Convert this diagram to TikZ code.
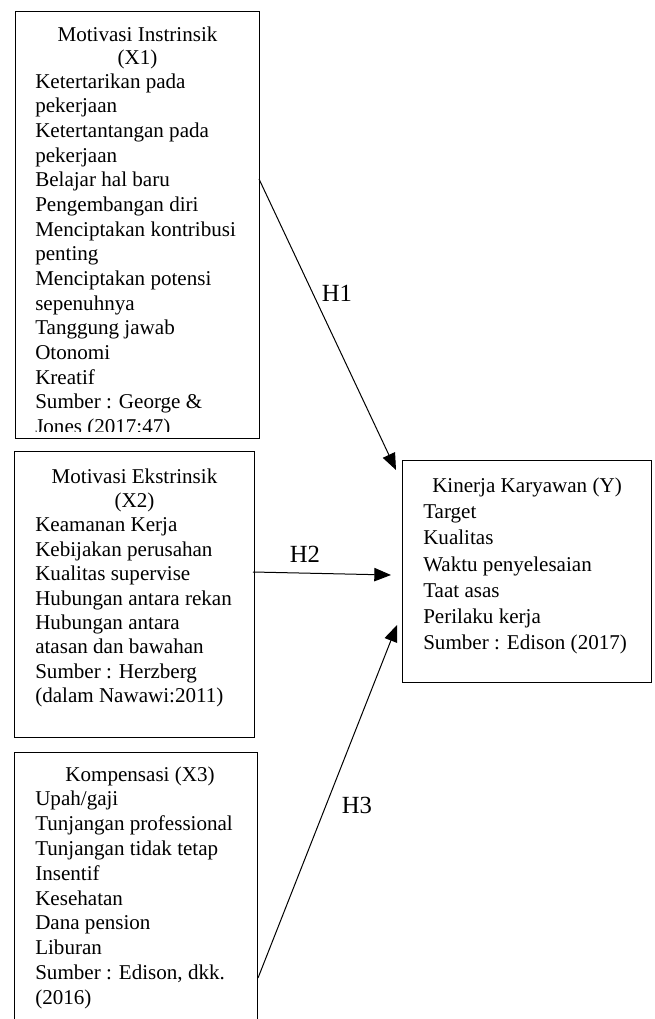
\documentclass[tikz,border=0pt]{standalone}
\usepackage{fontspec}
\setmainfont{Liberation Serif}
\usetikzlibrary{arrows.meta,calc}

\begin{document}
\begin{tikzpicture}[x=0.75pt,y=-0.75pt,
    every node/.style={inner sep=0pt},
    box/.style={draw,line width=0.75pt,anchor=north west},
    head/.style={align=center,anchor=base,font=\fontsize{15.8}{18.3}\selectfont},
    items/.style={align=left,anchor=base west,font=\fontsize{15.8}{18.3}\selectfont},
    hyp/.style={line width=0.75pt,-{Triangle[length=12.5pt,width=10pt]}},
    hlabel/.style={anchor=base,font=\fontsize{18.5}{20}\selectfont}]
    \useasboundingbox (0,0) rectangle (654,1019);
    \clip (0,0) rectangle (654,1019);

    % variable boxes
    \node[box,minimum width=183pt,minimum height=320.25pt] (X1) at (15,11) {};
    \node[box,minimum width=180pt,minimum height=214.5pt] (X2) at (14,451) {};
    \node[box,minimum width=182.25pt,minimum height=210pt] (X3) at (14,752) {};
    \node[box,minimum width=186.75pt,minimum height=166.5pt] (Y) at (402,460) {};

    % X1 (base = last line)
    \node[head,font=\fontsize{15.8}{17.5}\selectfont] (X1h) at ($(X1.north)+(0,54)$) {Motivasi Instrinsik\\(X1)};
    \begin{scope}
        \clip (X1.north west) rectangle ($(X1.south east)+(0,-8)$);
        \node[items,font=\fontsize{15.8}{18.5}\selectfont] (X1i) at ($(X1.north west)+(20,422.6)$) {Ketertarikan pada\\pekerjaan\\Ketertantangan pada\\pekerjaan\\Belajar hal baru\\Pengembangan diri\\Menciptakan kontribusi\\penting\\Menciptakan potensi\\sepenuhnya\\Tanggung jawab\\Otonomi\\Kreatif\\Sumber : George \&\\Jones (2017:47)};
    \end{scope}

    % X2
    \node[head] (X2h) at ($(X2.north)+(0,56.4)$) {Motivasi Ekstrinsik\\(X2)};
    \node[items] (X2i) at ($(X2.north west)+(21,251.6)$) {Keamanan Kerja\\Kebijakan perusahan\\Kualitas supervise\\Hubungan antara rekan\\Hubungan antara\\atasan dan bawahan\\Sumber : Herzberg\\(dalam Nawawi:2011)};

    % X3
    \node[head] (X3h) at ($(X3.north)+(4,29)$) {Kompensasi (X3)};
    \node[items,font=\fontsize{15.8}{18.6}\selectfont] (X3i) at ($(X3.north west)+(21,252.2)$) {Upah/gaji\\Tunjangan professional\\Tunjangan tidak tetap\\Insentif\\Kesehatan\\Dana pension\\Liburan\\Sumber : Edison, dkk.\\(2016)};

    % Y
    \node[head] (Yh) at ($(Y.north)+(0,32)$) {Kinerja Karyawan (Y)};
    \node[items,font=\fontsize{15.8}{19.7}\selectfont] (Yi) at ($(Y.north west)+(21,189.8)$) {Target\\Kualitas\\Waktu penyelesaian\\Taat asas\\Perilaku kerja\\Sumber : Edison (2017)};

    % hypotheses
    \coordinate (h1s) at ($(X1.north east)+(-1,168)$);
    \coordinate (h1e) at ($(Y.north west)+(-6,10)$);
    \coordinate (h2s) at ($(X2.north east)+(-2,121)$);
    \coordinate (h2e) at ($(Y.north west)+(-11,115)$);
    \coordinate (h3s) at ($(X3.north east)+(0,226)$);
    \coordinate (h3e) at ($(Y.north west)+(-5,165)$);
    \draw[hyp] (h1s) -- (h1e);
    \draw[hyp] (h2s) -- (h2e);
    \draw[hyp] (h3s) -- (h3e);
    \node[hlabel] (H1) at (337,302) {H1};
    \node[hlabel] (H2) at (305,562) {H2};
    \node[hlabel] (H3) at (357,813) {H3};
\end{tikzpicture}
\end{document}
